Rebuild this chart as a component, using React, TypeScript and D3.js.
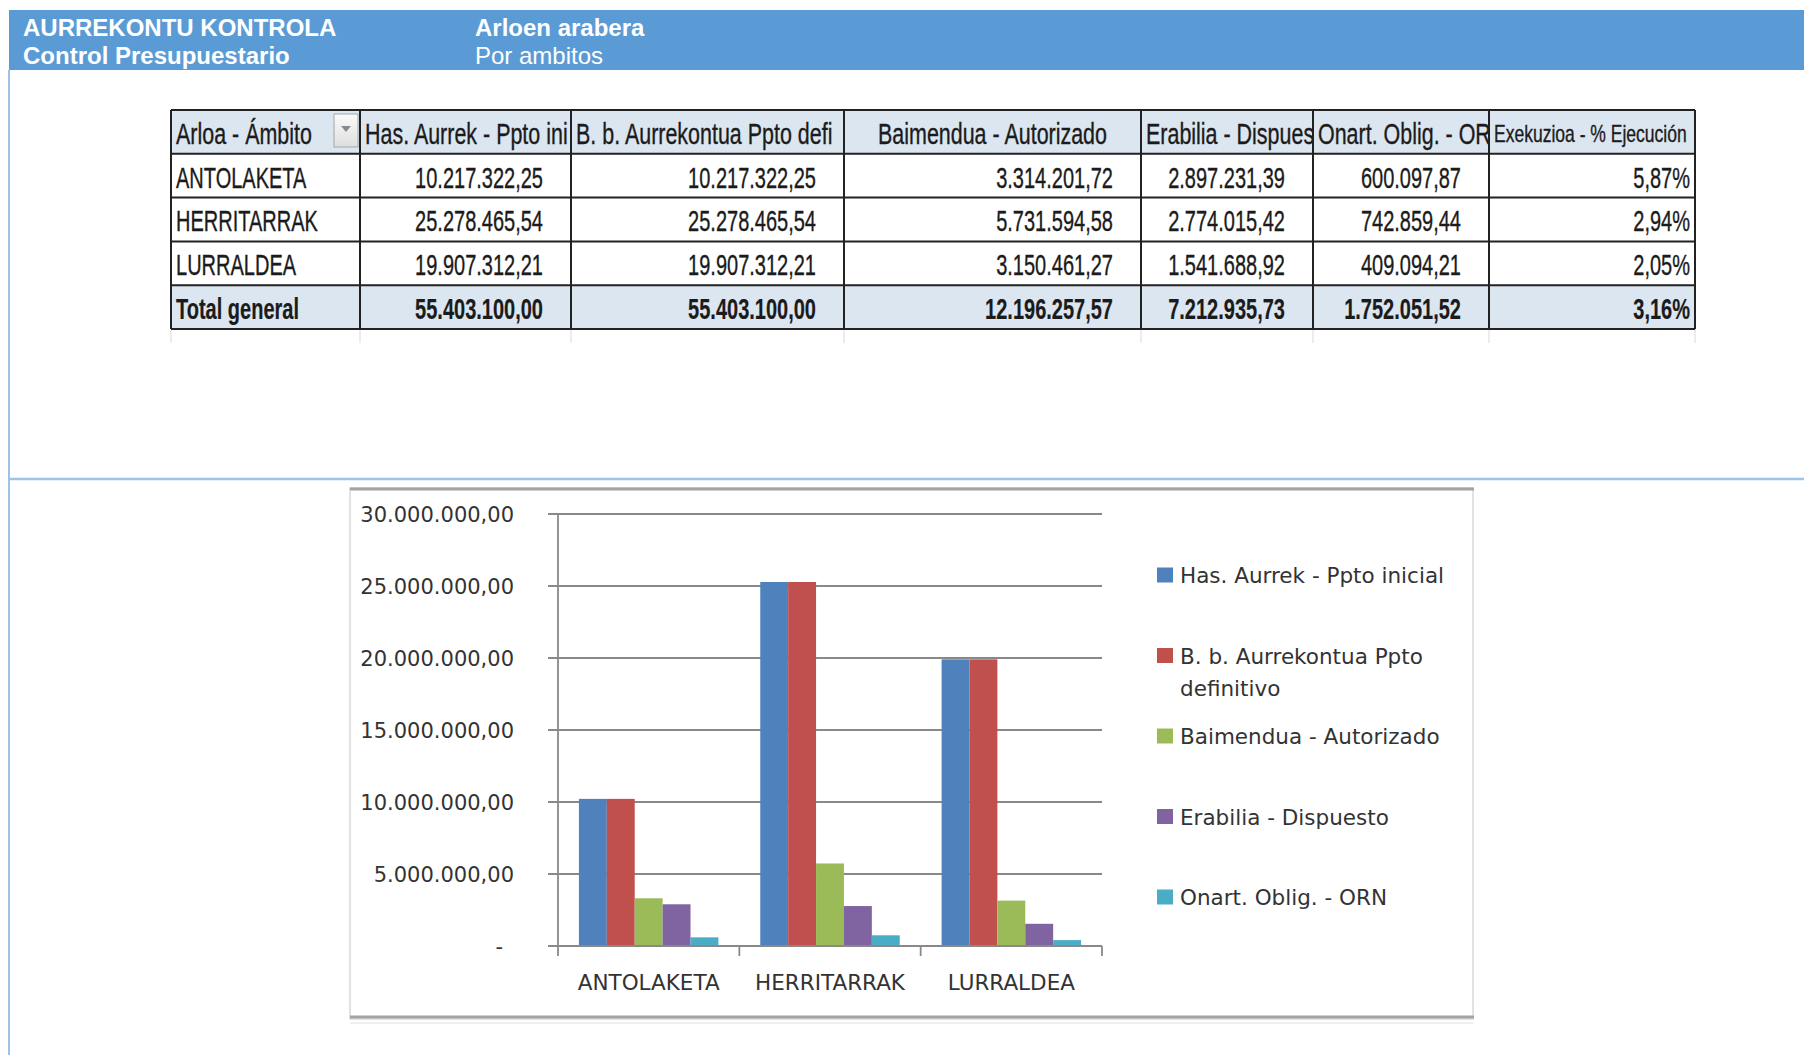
import React from 'react';
import * as d3 from 'd3';

// ---------- data ----------
const categories = ['ANTOLAKETA', 'HERRITARRAK', 'LURRALDEA'];
const seriesNames = [
  'Has. Aurrek - Ppto inicial',
  'B. b. Aurrekontua Ppto definitivo',
  'Baimendua - Autorizado',
  'Erabilia - Dispuesto',
  'Onart. Oblig. - ORN',
];
// column headers as they show in the (narrow, clipped) pivot table cells
const tableHeaders = [
  'Arloa - Ámbito',
  'Has. Aurrek - Ppto ini',
  'B. b. Aurrekontua Ppto defi',
  'Baimendua - Autorizado',
  'Erabilia - Dispues',
  'Onart. Oblig. - OR',
  'Exekuzioa - % Ejecución',
];
const hasAurrek = [10217322.25, 25278465.54, 19907312.21];
const bbAurrekontua = [10217322.25, 25278465.54, 19907312.21];
const baimendua = [3314201.72, 5731594.58, 3150461.27];
const erabilia = [2897231.39, 2774015.42, 1541688.92];
const onartOblig = [600097.87, 742859.44, 409094.21];
const exekuzioaPct = [5.87, 2.94, 2.05];
const totalLabel = 'Total general';
const totals = [55403100.0, 55403100.0, 12196257.57, 7212935.73, 1752051.52];
const totalPct = 3.16;
const yTicks = [0, 5000000, 10000000, 15000000, 20000000, 25000000, 30000000];
const colors = ['#4F81BD', '#C0504D', '#9BBB59', '#8064A2', '#4BACC6'];
const titleLeft = ['AURREKONTU KONTROLA', 'Control Presupuestario'];
const titleRight = ['Arloen arabera', 'Por ambitos'];

const seriesValues = [hasAurrek, bbAurrekontua, baimendua, erabilia, onartOblig];

// ---------- formatting ----------
const loc = d3.formatLocale({ decimal: ',', thousands: '.', grouping: [3], currency: ['', '€'] });
const fmtNum = loc.format(',.2f');
const fmtPct = (v: number) => loc.format('.2f')(v) + '%';
const fmtAxis = (v: number) => (v === 0 ? '-' : fmtNum(v));

// ---------- layout ----------
const W = 1804;
const H = 1055;
const colEdges = [171, 360, 571, 844, 1141, 1313, 1489, 1695];
const tableTop = 110;
const rowH = 43.8;
const SX_DATA = 0.69;
const SX_HEAD = 0.74;
const tableFont = 'Liberation Sans, Arial, sans-serif';
const chartFont = 'DejaVu Sans, Verdana, sans-serif';

const plot = { left: 558, right: 1102, top: 514, bottom: 946 };

function wrapText(text: string, maxW: number, font: string): string[] {
  const c = document.createElement('canvas').getContext('2d');
  if (!c) return [text];
  c.font = font;
  const words = text.split(' ');
  const lines: string[] = [];
  let cur = '';
  for (const w of words) {
    const t = cur ? cur + ' ' + w : w;
    if (c.measureText(t).width > maxW && cur) {
      lines.push(cur);
      cur = w;
    } else cur = t;
  }
  if (cur) lines.push(cur);
  return lines;
}

const TT = ({ x, y, anchor = 'start', bold = false, size = 29, sx = SX_DATA, children }: any) => (
  <text
    transform={`translate(${x},${y}) scale(${sx},1)`}
    textAnchor={anchor}
    fontWeight={bold ? 'bold' : 'normal'}
    fontSize={size}
    fontFamily={tableFont}
    fill="#1b1b1b"
    stroke="#1b1b1b"
    strokeWidth={bold ? 0.2 : 0.35}
  >
    {children}
  </text>
);

export default function App() {
  const nRows = categories.length + 2;
  const rowY = (i: number) => tableTop + i * rowH;

  const x0 = d3.scaleBand<string>().domain(categories).range([plot.left, plot.right]).paddingInner(0).paddingOuter(0);
  const bw = x0.bandwidth() / 6.5;
  const x1 = d3
    .scaleBand<number>()
    .domain(d3.range(seriesNames.length))
    .range([0.75 * bw, x0.bandwidth() - 0.75 * bw]);
  const y = d3.scaleLinear().domain([0, 30000000]).range([plot.bottom, plot.top]);

  const legendFont = '21.5px DejaVu Sans';
  const legendLines = seriesNames.map((s) => wrapText(s, 285, legendFont));
  const legendTop = 575;
  const legendStep = 80.5;

  return (
    <svg
      width={W}
      height={H}
      style={{ position: 'absolute', left: 0, top: 0, background: '#fff' }}
      xmlns="http://www.w3.org/2000/svg"
    >
      <defs>
        {tableHeaders.map((_, i) => (
          <clipPath id={`hc${i}`} key={i}>
            <rect x={colEdges[i] + 1} y={tableTop} width={colEdges[i + 1] - colEdges[i] - 2} height={rowH} />
          </clipPath>
        ))}
        <linearGradient id="btn" x1="0" y1="0" x2="0" y2="1">
          <stop offset="0" stopColor="#fbfbfb" />
          <stop offset="1" stopColor="#dedede" />
        </linearGradient>
      </defs>
      <rect x={0} y={0} width={W} height={H} fill="#fff" />

      {/* page header band */}
      <rect x={9} y={10} width={W - 9} height={60} fill="#5B9BD5" />
      <line x1={9} x2={9} y1={70} y2={H} stroke="#9DC3E6" strokeWidth={2} />
      <line x1={9} x2={W} y1={479} y2={479} stroke="#9DC3E6" strokeWidth={2.5} />
      {titleLeft.map((t, i) => (
        <text key={t} x={23} y={36 + i * 28} fill="#fff" fontFamily="Liberation Sans, Arial, sans-serif" fontSize={24} fontWeight="bold">
          {t}
        </text>
      ))}
      {titleRight.map((t, i) => (
        <text key={t} x={475} y={36 + i * 28} fill="#fff" fontFamily="Liberation Sans, Arial, sans-serif" fontSize={24} fontWeight={i === 0 ? 'bold' : 'normal'}>
          {t}
        </text>
      ))}

      {/* table */}
      <g>
        <rect x={colEdges[0]} y={rowY(0)} width={colEdges[7] - colEdges[0]} height={rowH} fill="#DCE6F1" />
        <rect x={colEdges[0]} y={rowY(nRows - 1)} width={colEdges[7] - colEdges[0]} height={rowH} fill="#DCE6F1" />
        {/* faint sheet gridlines below table */}
        {colEdges.map((cx, i) => (
          <line key={'g' + i} x1={cx} x2={cx} y1={rowY(nRows)} y2={rowY(nRows) + 14} stroke="#d9d9d9" strokeWidth={1} />
        ))}
        {d3.range(nRows + 1).map((r) => (
          <line key={'h' + r} x1={colEdges[0]} x2={colEdges[7]} y1={rowY(r)} y2={rowY(r)} stroke="#222" strokeWidth={2} />
        ))}
        {colEdges.map((cx, i) => (
          <line key={'v' + i} x1={cx} x2={cx} y1={rowY(0)} y2={rowY(nRows)} stroke="#222" strokeWidth={2} />
        ))}
        {/* header texts */}
        {tableHeaders.map((h, i) => (
          <g key={h} clipPath={`url(#hc${i})`}>
            {i === 3 ? (
              <TT x={(colEdges[3] + colEdges[4]) / 2} y={rowY(1) - 10} anchor="middle" sx={SX_HEAD}>
                {h}
              </TT>
            ) : i === 6 ? (
              <TT x={colEdges[6] + 5} y={rowY(1) - 12} size={24} sx={0.73}>
                {h}
              </TT>
            ) : (
              <TT x={colEdges[i] + 5} y={rowY(1) - 10} sx={SX_HEAD}>
                {h}
              </TT>
            )}
          </g>
        ))}
        {/* dropdown button */}
        <rect x={334} y={114} width={24} height={33} fill="url(#btn)" stroke="#a6a6a6" strokeWidth={1} />
        <path d="M341,126 L351,126 L346,132 Z" fill="#8a8a8a" />

        {/* data rows */}
        {categories.map((c, r) => (
          <g key={c}>
            <TT x={colEdges[0] + 5} y={rowY(r + 2) - 10}>{c}</TT>
            {seriesValues.map((vals, k) => (
              <TT key={k} x={colEdges[k + 2] - 28} y={rowY(r + 2) - 10} anchor="end">
                {fmtNum(vals[r])}
              </TT>
            ))}
            <TT x={colEdges[7] - 5} y={rowY(r + 2) - 10} anchor="end">{fmtPct(exekuzioaPct[r])}</TT>
          </g>
        ))}
        <TT x={colEdges[0] + 5} y={rowY(nRows) - 10} bold>{totalLabel}</TT>
        {totals.map((v, k) => (
          <TT key={k} x={colEdges[k + 2] - 28} y={rowY(nRows) - 10} anchor="end" bold>
            {fmtNum(v)}
          </TT>
        ))}
        <TT x={colEdges[7] - 5} y={rowY(nRows) - 10} anchor="end" bold>{fmtPct(totalPct)}</TT>
      </g>

      {/* chart frame */}
      <rect x={350} y={488} width={1123} height={531} fill="#fff" stroke="#cfcfcf" strokeWidth={1.2} />
      <line x1={350} x2={1474} y1={489} y2={489} stroke="#a3a3a3" strokeWidth={3} />
      <line x1={350} x2={1474} y1={1017} y2={1017} stroke="#a3a3a3" strokeWidth={3} />
      <line x1={350} x2={1474} y1={1023} y2={1023} stroke="#e2e2e2" strokeWidth={1} />

      {/* gridlines */}
      {yTicks.map((t) => (
        <line key={t} x1={plot.left - 10} x2={plot.right} y1={y(t)} y2={y(t)} stroke="#898989" strokeWidth={1.8} />
      ))}
      <line x1={plot.left} x2={plot.left} y1={plot.top} y2={plot.bottom + 10} stroke="#898989" strokeWidth={1.8} />
      {categories.map((c) => (
        <line key={c} x1={(x0(c) as number) + x0.bandwidth()} x2={(x0(c) as number) + x0.bandwidth()} y1={plot.bottom} y2={plot.bottom + 10} stroke="#898989" strokeWidth={1.8} />
      ))}

      {/* bars */}
      {categories.map((c, ci) => (
        <g key={c} transform={`translate(${x0(c)},0)`}>
          {seriesValues.map((vals, si) => (
            <rect
              key={si}
              x={x1(si) as number}
              y={y(vals[ci])}
              width={x1.bandwidth()}
              height={y(0) - y(vals[ci])}
              fill={colors[si]}
            />
          ))}
        </g>
      ))}
      <line x1={plot.left - 10} x2={plot.right} y1={plot.bottom} y2={plot.bottom} stroke="#898989" strokeWidth={1.8} />

      {/* y labels */}
      {yTicks.map((t) => (
        <text
          key={'l' + t}
          x={t === 0 ? 503 : 514}
          y={y(t) + 7.5}
          textAnchor="end"
          fontFamily={chartFont}
          fontSize={21}
          fill="#333"
        >
          {fmtAxis(t)}
        </text>
      ))}
      {/* x labels */}
      {categories.map((c) => (
        <text key={'x' + c} x={(x0(c) as number) + x0.bandwidth() / 2} y={990} textAnchor="middle" fontFamily={chartFont} fontSize={21.5} fill="#333">
          {c}
        </text>
      ))}

      {/* legend */}
      {seriesNames.map((s, i) => (
        <g key={'lg' + i} transform={`translate(1157,${legendTop + i * legendStep})`}>
          <rect x={0} y={-7.5} width={16} height={15} fill={colors[i]} />
          {legendLines[i].map((ln, li) => (
            <text key={li} x={23} y={8 + li * 32} fontFamily={chartFont} fontSize={21.5} fill="#333">
              {ln}
            </text>
          ))}
        </g>
      ))}
    </svg>
  );
}
